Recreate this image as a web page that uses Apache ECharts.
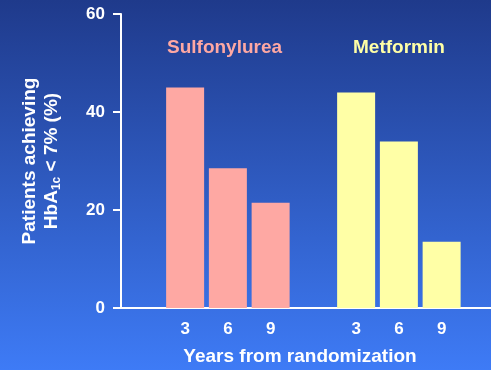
<!DOCTYPE html>
<html>
<head>
<meta charset="utf-8">
<style>
  html, body { margin: 0; padding: 0; }
  #chart { width: 491px; height: 370px; }
</style>
<script src="https://cdn.jsdelivr.net/npm/echarts@6/dist/echarts.min.js"></script>
</head>
<body>
<div id="chart"></div>
<script>
// Percentage of patients reaching HbA1c < 7% at each follow-up year
var years = ['3', '6', '9'];
var sulfonylurea = [45, 28.5, 21.5];
var metformin = [44, 34, 13.5];
var yTicks = [0, 20, 40, 60];

// One blank slot before each treatment group
var categories = [''].concat(years, [' '], years);
var sulfData = [null].concat(sulfonylurea, [null, null, null, null]);
var metData = [null, null, null, null, null].concat(metformin);

var FONT = 'Liberation Sans, Arial, sans-serif';
var chart = echarts.init(document.getElementById('chart'));

chart.setOption({
  backgroundColor: {
    type: 'linear', x: 0, y: 0, x2: 0, y2: 1,
    colorStops: [
      { offset: 0, color: '#1f3a8b' },
      { offset: 1, color: '#3e7bf6' }
    ]
  },
  animation: false,
  grid: [
    { left: 121, right: 28, top: 14, bottom: 62 },
    { left: 121, right: 0, top: 14, bottom: 62 }
  ],
  xAxis: [
    {
      type: 'category', gridIndex: 0, data: categories,
      axisLine: { show: false }, axisTick: { show: false },
      axisLabel: { color: '#ffffff', fontFamily: FONT, fontWeight: 'bold', fontSize: 17, margin: 13 }
    },
    {
      type: 'category', gridIndex: 1, data: [''],
      axisLine: { show: true, lineStyle: { color: '#ffffff', width: 2 } },
      axisTick: { show: false }, axisLabel: { show: false }
    }
  ],
  yAxis: [
    {
      type: 'value', gridIndex: 0, min: 0, max: 60, interval: 20,
      axisLine: { show: true, lineStyle: { color: '#ffffff', width: 2 } },
      axisTick: { show: true, length: 8, lineStyle: { color: '#ffffff', width: 2 } },
      splitLine: { show: false },
      axisLabel: {
        color: '#ffffff', fontFamily: FONT, fontWeight: 'bold', fontSize: 17, margin: 16,
        formatter: function (v) { return yTicks.indexOf(v) >= 0 ? String(v) : ''; }
      }
    },
    { type: 'value', gridIndex: 1, show: false }
  ],
  series: [
    {
      name: 'Sulfonylurea', type: 'bar', xAxisIndex: 0, yAxisIndex: 0,
      data: sulfData, barWidth: 38, barGap: '-100%',
      itemStyle: { color: '#fea8a3' }
    },
    {
      name: 'Metformin', type: 'bar', xAxisIndex: 0, yAxisIndex: 0,
      data: metData, barWidth: 38, barGap: '-100%',
      itemStyle: { color: '#ffffa6' }
    }
  ],
  graphic: [
    {
      type: 'text', left: 167, top: 38,
      style: { text: 'Sulfonylurea', fill: '#fea8a3', font: 'bold 19px ' + FONT }
    },
    {
      type: 'text', left: 353, top: 38,
      style: { text: 'Metformin', fill: '#ffffa6', font: 'bold 19px ' + FONT }
    },
    {
      type: 'text', x: 300, y: 357,
      style: {
        text: 'Years from randomization', fill: '#ffffff', font: 'bold 19px ' + FONT,
        align: 'center', verticalAlign: 'middle'
      }
    },
    {
      type: 'text', x: 41, y: 161, rotation: Math.PI / 2,
      style: {
        text: '{a|Patients achieving}\n{a|HbA}{s|1c}{a| < 7% (%)}',
        align: 'center', verticalAlign: 'middle',
        rich: {
          a: { fill: '#ffffff', fontFamily: FONT, fontWeight: 'bold', fontSize: 19, lineHeight: 22 },
          s: { fill: '#ffffff', fontFamily: FONT, fontWeight: 'bold', fontSize: 12, lineHeight: 22, verticalAlign: 'bottom', padding: [6, 0, 0, 0] }
        }
      }
    }
  ]
});
</script>
</body>
</html>
